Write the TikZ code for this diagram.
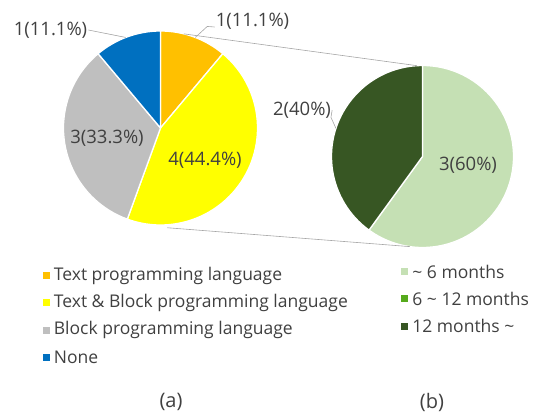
\documentclass[tikz,border=0pt]{standalone}
\usepackage{fontspec}
\setmainfont{Open Sans}
\usepackage{xcolor}
\usepackage{tikz}
\usetikzlibrary{positioning}

\definecolor{txtgray}{HTML}{404040}
\definecolor{linegray}{HTML}{A6A6A6}
\definecolor{orangeA}{HTML}{FFC000}
\definecolor{yellowA}{HTML}{FFFF00}
\definecolor{grayA}{HTML}{BFBFBF}
\definecolor{blueA}{HTML}{0070C0}
\definecolor{greenL}{HTML}{C5E0B4}
\definecolor{greenM}{HTML}{56AA1C}
\definecolor{greenD}{HTML}{375623}

\begin{document}
\begin{tikzpicture}[
    % GLOBAL CFG
    x=1pt, y=1pt,
    font=\fontsize{17.5}{20}\selectfont,
    text=txtgray,
    % Styles
    slice/.style={% For the pie pieces
        draw=white,
        line width=1.3pt,
        line join=round,
        },
    datalabel/.style={% For the numbers on and next to the pies
        inner sep=1pt,
        font=\fontsize{18.5}{21}\selectfont,
        },
    leader/.style={% Thin grey lines
        draw=linegray,
        line width=.6pt,
        },
    swatch/.style={% Little squares of the legends
        rectangle,
        minimum size=7pt,
        inner sep=0pt,
        },
    legtext/.style={% Legend texts
        anchor=west,
        inner sep=0pt,
        },
    caption/.style={% (a) and (b)
        font=\fontsize{20}{22}\selectfont,
        },
    ]

    \useasboundingbox (0,0) rectangle (543,-414);

%Start drawing the thing...
    % Left pie (a)
    \coordinate (pa) at (160.5,-128);
    \path[slice, fill=orangeA] (pa) -- ++(90:97) arc[start angle=90, end angle=50, radius=97] -- cycle;
    \path[slice, fill=yellowA] (pa) -- ++(50:97) arc[start angle=50, end angle=-110, radius=97] -- cycle;
    \path[slice, fill=grayA] (pa) -- ++(250:97) arc[start angle=250, end angle=130, radius=97] -- cycle;
    \path[slice, fill=blueA] (pa) -- ++(130:97) arc[start angle=130, end angle=90, radius=97] -- cycle;

    % Right pie (b)
    \coordinate (pb) at (422.5,-156.5);
    \path[slice, fill=greenL] (pb) -- ++(90:91) arc[start angle=90, end angle=-126, radius=91] -- cycle;
    \path[slice, fill=greenD] (pb) -- ++(234:91) arc[start angle=234, end angle=90, radius=91] -- cycle;

    % Points on the rims
    \coordinate (pa-up) at ([shift={(76:97)}]pa);
    \coordinate (pa-down) at ([shift={(-86:100)}]pa);
    \coordinate (pb-up) at ([shift={(93.5:91)}]pb);
    \coordinate (pb-down) at ([shift={(-98:91)}]pb);
    \coordinate (pa-or) at ([shift={(69:97)}]pa);
    \coordinate (pa-bl) at ([shift={(111:97)}]pa);
    \coordinate (pb-dk) at ([shift={(162:91)}]pb);

    % Lines between the two pies
    \draw[leader] (pa-up) -- (pb-up);
    \draw[leader] (pa-down) -- (pb-down);

    % Labels
    \node[datalabel] (lbl-or) at (252.5,-21) {1(11.1\%)};
    \node[datalabel] (lbl-bl) at (50.5,-30) {1(11.1\%)};
    \node[datalabel] (lbl-gr) at (107,-138) {3(33.3\%)};
    \node[datalabel] (lbl-ye) at (205,-160) {4(44.4\%)};
    \node[datalabel] (lbl-dk) at (302,-110) {2(40\%)};
    \node[datalabel] (lbl-lt) at (468,-165) {3(60\%)};

    \coordinate (lbl-or-foot) at ([yshift=-6pt]lbl-or.west);
    \draw[leader] (pa-or) -- ++(12,11) -- (lbl-or-foot);
    \draw[leader] (pa-bl) -- (lbl-bl.east);
    \draw[leader] (pb-dk) -- ++(-5,11) -- (lbl-dk.east);

    % Legend (a)
    \node[swatch, fill=orangeA] (sw-text) at (46.5,-275.5) {};
    \node[swatch, fill=yellowA, below=20pt of sw-text] (sw-both) {};
    \node[swatch, fill=grayA, below=20pt of sw-both] (sw-block) {};
    \node[swatch, fill=blueA, below=20pt of sw-block] (sw-none) {};
    \node[legtext, right=3.5pt of sw-text] (lg-text) {Text programming language};
    \node[legtext, right=3.5pt of sw-both] (lg-both) {Text \& Block programming language};
    \node[legtext, right=3.5pt of sw-block] (lg-block) {Block programming language};
    \node[legtext, right=3.5pt of sw-none] (lg-none) {None};

    % Legend (b)
    \node[swatch, fill=greenL] (sw-six) at (404.5,-271.5) {};
    \node[swatch, fill=greenM, below=20pt of sw-six] (sw-twelve) {};
    \node[swatch, fill=greenD, below=20pt of sw-twelve] (sw-more) {};
    \node[legtext, right=4pt of sw-six] (lg-six) {\textasciitilde{} 6 months};
    \node[legtext, right=4pt of sw-twelve] (lg-twelve) {6 \textasciitilde{} 12 months};
    \node[legtext, right=4pt of sw-more] (lg-more) {12 months \textasciitilde};

    % Captions
    \node[caption] (cap-a) at (171,-402) {(a)};
    \node[caption] (cap-b) at (432,-402) {(b)};
\end{tikzpicture}
\end{document}
